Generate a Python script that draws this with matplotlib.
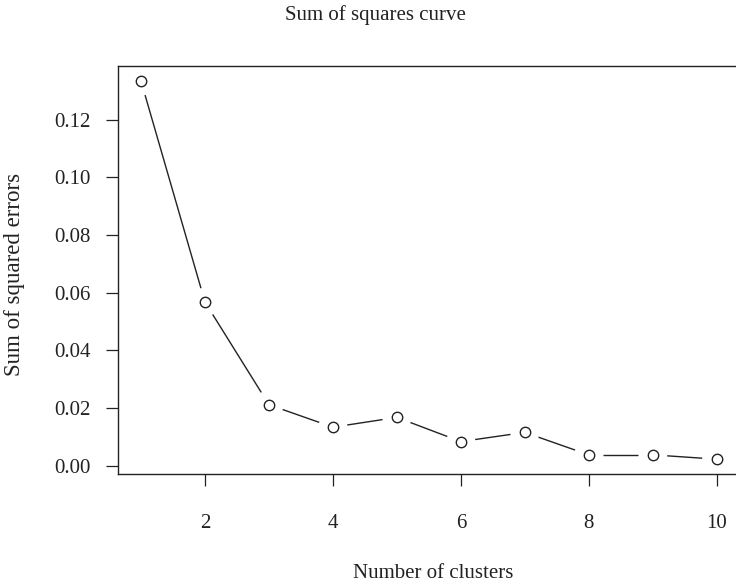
import matplotlib
matplotlib.use("Agg")
import matplotlib.pyplot as plt
import numpy as np

# data
clusters = [1, 2, 3, 4, 5, 6, 7, 8, 9, 10]
sse = [0.1334, 0.0567, 0.0211, 0.0133, 0.0167, 0.0083, 0.0115, 0.0037, 0.0037, 0.0022]
xticks = [2, 4, 6, 8, 10]
yticks = [0.00, 0.02, 0.04, 0.06, 0.08, 0.10, 0.12]

plt.rcParams['font.family'] = ['Liberation Serif', 'DejaVu Serif']
plt.rcParams['font.size'] = 15

ink = '#222222'

fig = plt.figure(figsize=(7.36, 5.84), dpi=100)
ax = fig.add_axes([118 / 736, 109.7 / 584, 621.7 / 736, 408.3 / 584])

# R style 4% padding around data
x = np.array(clusters, dtype=float)
y = np.array(sse)
dx = (x.max() - x.min()) * 0.04
dy = (y.max() - y.min()) * 0.04
ax.set_xlim(x.min() - dx, x.max() + dx)
ax.set_ylim(y.min() - dy, y.max() + dy)

# type="b": line pieces with gaps around the points
pts = ax.transData.transform(np.column_stack([x, y]))
gap = 14.5
for i in range(len(pts) - 1):
    p0, p1 = pts[i], pts[i + 1]
    d = p1 - p0
    L = np.hypot(d[0], d[1])
    if L <= 2 * gap:
        continue
    u = d / L
    a = ax.transData.inverted().transform(p0 + u * gap)
    b = ax.transData.inverted().transform(p1 - u * gap)
    ax.plot([a[0], b[0]], [a[1], b[1]], color=ink, lw=1.0, solid_capstyle='butt')

ax.plot(x, y, 'o', mfc='white', mec=ink, ms=7.5, mew=1.0, zorder=3)

ax.set_xticks(xticks)
ax.set_xticklabels([str(t) for t in xticks])
ax.set_yticks(yticks)
ax.set_yticklabels(['%.2f' % t for t in yticks])
ax.tick_params(direction='out', length=8.5, width=0.9, color=ink, labelcolor=ink)
ax.tick_params(axis='x', pad=20)
ax.tick_params(axis='y', pad=11)
for s in ax.spines.values():
    s.set_color(ink)
    s.set_linewidth(1.0)

fig.text(375 / 736, 1 - 20 / 584, 'Sum of squares curve', ha='center', va='baseline', color=ink)
fig.text(433 / 736, 1 - 578 / 584, 'Number of clusters', ha='center', va='baseline', color=ink)
fig.text(15 / 736, 1 - 274 / 584, 'Sum of squared errors', ha='center', va='center',
         rotation=90, color=ink, fontsize=16.5)

fig.savefig('out.png', dpi=100)
